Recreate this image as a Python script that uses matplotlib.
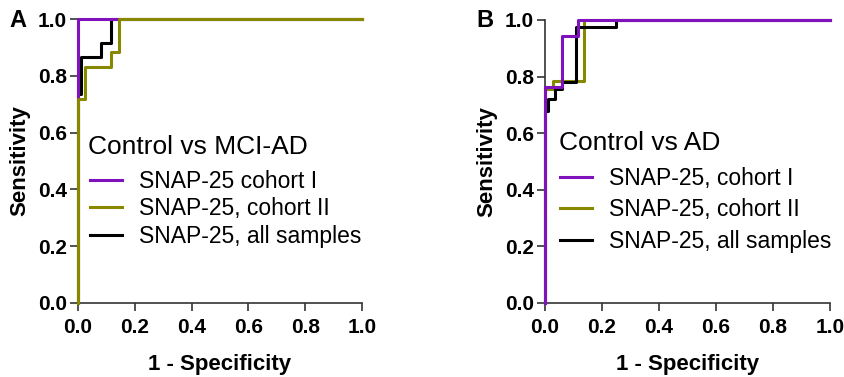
import matplotlib.pyplot as plt
import numpy as np

plt.rcParams['font.family'] = ['Liberation Sans', 'DejaVu Sans']

PURPLE = '#7f12bd'
OLIVE = '#878700'

# ROC step curves, panel A (Control vs MCI-AD)
a_c1_x = [0.0, 0.0, 1.0]
a_c1_y = [0.0, 1.0, 1.0]
a_c2_x = [0.0, 0.0, 0.023, 0.023, 0.117, 0.117, 0.143, 0.143, 1.0]
a_c2_y = [0.0, 0.717, 0.717, 0.83, 0.83, 0.885, 0.885, 1.0, 1.0]
a_all_x = [0.0, 0.0, 0.012, 0.012, 0.08, 0.08, 0.115, 0.115, 1.0]
a_all_y = [0.0, 0.736, 0.736, 0.867, 0.867, 0.914, 0.914, 1.0, 1.0]

# panel B (Control vs AD)
b_c1_x = [0.0, 0.0, 0.06, 0.06, 0.116, 0.116, 1.0]
b_c1_y = [0.0, 0.764, 0.764, 0.944, 0.944, 1.0, 1.0]
b_c2_x = [0.0, 0.0, 0.027, 0.027, 0.137, 0.137, 1.0]
b_c2_y = [0.0, 0.755, 0.755, 0.786, 0.786, 1.0, 1.0]
b_all_x = [0.0, 0.0, 0.012, 0.012, 0.035, 0.035, 0.06, 0.06, 0.11, 0.11, 0.25, 0.25, 1.0]
b_all_y = [0.0, 0.68, 0.68, 0.72, 0.72, 0.756, 0.756, 0.78, 0.78, 0.975, 0.975, 1.0, 1.0]

ticks = [0.0, 0.2, 0.4, 0.6, 0.8, 1.0]
tick_labels = ['0.0', '0.2', '0.4', '0.6', '0.8', '1.0']

fig = plt.figure(figsize=(8.44, 3.77), dpi=100)
axA = fig.add_axes([0.0924, 0.1963, 0.3365, 0.7533])
axB = fig.add_axes([0.6457, 0.1963, 0.3377, 0.7507])


def style(ax):
    ax.set_xlim(0, 1)
    ax.set_ylim(0, 1)
    for s in ['top', 'right']:
        ax.spines[s].set_visible(False)
    for s in ['left', 'bottom']:
        ax.spines[s].set_linewidth(1.2)
        ax.spines[s].set_color('#333333')
    ax.set_xticks(ticks)
    ax.set_yticks(ticks)
    ax.set_xticklabels(tick_labels, fontweight='bold', fontsize=15)
    ax.set_yticklabels(tick_labels, fontweight='bold', fontsize=15)
    ax.tick_params(direction='out', length=6, width=1.2, color='#333333')
    ax.tick_params(axis='x', pad=5)
    ax.tick_params(axis='y', pad=2)
    ax.set_xlabel('1 - Specificity', fontweight='bold', fontsize=16, labelpad=12)
    ax.set_ylabel('Sensitivity', fontweight='bold', fontsize=16, labelpad=5)


def curves(ax, c1, c2, allc, labels, title, title_xy, anchor, spacing, olive_top=False):
    zo = 3.5 if olive_top else 2
    l1, = ax.plot(c1[0], c1[1], color=PURPLE, lw=2.2, clip_on=False, zorder=3)
    l2, = ax.plot(c2[0], c2[1], color=OLIVE, lw=2.2, clip_on=False, zorder=zo)
    l3, = ax.plot(allc[0], allc[1], color='black', lw=2.2, clip_on=False, zorder=2.5)
    ax.text(title_xy[0], title_xy[1], title, transform=ax.transAxes,
            fontsize=19, ha='left', va='center')
    ax.legend([l1, l2, l3], labels, loc='center left',
              bbox_to_anchor=anchor, frameon=False, fontsize=16.5,
              handlelength=1.4, handletextpad=0.75,
              borderpad=0, borderaxespad=0, labelspacing=spacing)


style(axA)
style(axB)
curves(axA, (a_c1_x, a_c1_y), (a_c2_x, a_c2_y), (a_all_x, a_all_y),
       ['SNAP-25 cohort I', 'SNAP-25, cohort II', 'SNAP-25, all samples'],
       'Control vs MCI-AD', (0.035, 0.549), (0.042, 0.331), 0.2, olive_top=True)
curves(axB, (b_c1_x, b_c1_y), (b_c2_x, b_c2_y), (b_all_x, b_all_y),
       ['SNAP-25, cohort I', 'SNAP-25, cohort II', 'SNAP-25, all samples'],
       'Control vs AD', (0.048, 0.565), (0.053, 0.329), 0.37)

fig.text(0.011, 0.945, 'A', fontweight='bold', fontsize=17, va='center')
fig.text(0.565, 0.945, 'B', fontweight='bold', fontsize=17, va='center')

fig.savefig('out.png', dpi=100)
